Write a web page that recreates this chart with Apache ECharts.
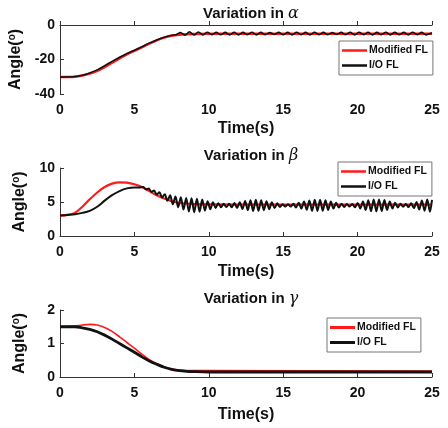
<!DOCTYPE html>
<html><head><meta charset="utf-8">
<script src="https://cdn.jsdelivr.net/npm/echarts@6/dist/echarts.min.js"></script>
<style>html,body{margin:0;padding:0;background:#fff}#c{width:448px;height:428px}</style>
</head><body><div id="c"></div>
<script>
// ---- data ----
const xTicks = [0, 5, 10, 15, 20, 25];
const seriesNames = ['Modified FL', 'I/O FL'];
const greekSymbols = ['α', 'β', 'γ'];

const alphaModified = [[0,-30.2],[1,-30],[1.5,-29.3],[2,-28.2],[2.5,-26.6],[3,-24.4],[3.5,-21.9],[4,-19.4],[4.5,-17],[5,-15],[5.5,-12.9],[6,-10.8],[6.5,-8.9],[7,-7.3],[7.5,-6.2],[8,-5.6],[8.5,-5.3],[9,-5.2],[12,-5.1],[25,-5.1]];
const alphaIO = [[0,-30.2],[1,-29.9],[1.5,-29.1],[2,-27.8],[2.5,-26],[3,-23.6],[3.5,-21.1],[4,-18.7],[4.5,-16.5],[5,-14.6],[5.5,-12.6],[6,-10.5],[6.5,-8.7],[7,-7.1],[7.5,-5.9],
 [7.8,-5.6],[8.1,-4.4],[8.4,-5.9],[8.7,-4.0],[9.0,-5.8],[9.3,-4.1],[9.6,-5.7],[9.9,-4.2],[10.2,-5.6],[10.5,-4.3],[10.8,-5.6],[11.1,-4.3],[11.4,-5.7],[11.7,-4.2],[12.0,-5.7],
 [12.3,-4.3],[12.6,-5.6],[12.9,-4.2],[13.2,-5.7],[13.5,-4.3],[13.8,-5.6],[14.1,-4.4],[14.4,-5.5],[14.7,-4.3],[15.0,-5.6],[15.3,-4.3],[15.6,-5.7],[15.9,-4.2],[16.2,-5.6],
 [16.5,-4.3],[16.8,-5.7],[17.1,-4.2],[17.4,-5.6],[17.7,-4.3],[18.0,-5.6],[18.3,-4.4],[18.6,-5.5],[18.9,-4.3],[19.2,-5.6],[19.5,-4.2],[19.8,-5.7],[20.1,-4.2],[20.4,-5.6],
 [20.7,-4.3],[21.0,-5.7],[21.3,-4.3],[21.6,-5.6],[21.9,-4.2],[22.2,-5.7],[22.5,-4.3],[22.8,-5.6],[23.1,-4.3],[23.4,-5.7],[23.7,-4.2],[24.0,-5.6],[24.3,-4.3],[24.6,-5.7],[25.0,-4.5]];

const betaModified = [[0,3.0],[0.5,3.1],[1,3.4],[1.5,4.3],[2,5.4],[2.5,6.4],[3,7.2],[3.5,7.7],[4,7.9],[4.5,7.85],[5,7.6],[5.5,7.2],[6,6.6],[6.5,6.0],[7,5.5],[7.5,5.1],[8,4.85],[9,4.7],[10,4.65],[15,4.6],[25,4.6]];
const betaIO = [[0,3.0],[0.5,3.1],[1,3.2],[1.5,3.4],[2,3.7],[2.5,4.3],[3,5.2],[3.5,6.0],[4,6.6],[4.5,7.0],[5,7.15],[5.3,7.15],
 [5.60,7.2],[5.78,6.85],[5.96,6.97],[6.14,6.5],[6.32,6.7],[6.50,6.1],[6.68,6.45],[6.86,5.68],[7.04,6.15],[7.22,5.18],[7.40,5.98],[7.58,4.68],[7.76,5.82],[7.94,4.22],
 [8.12,5.7],[8.30,3.88],[8.48,5.6],[8.66,3.62],[8.84,5.54],[9.02,3.48],[9.20,5.46],[9.38,3.56],[9.56,5.36],[9.74,3.75],[9.92,5.12],[10.10,3.95],[10.28,4.96],[10.46,4.12],
 [10.64,4.82],[10.82,4.22],[11.00,4.74],[11.18,4.26],[11.36,4.74],[11.54,4.24],[11.72,4.84],[11.90,4.12],[12.08,4.96],[12.26,3.96],[12.44,5.14],[12.62,3.8],[12.80,5.26],
 [12.98,3.68],[13.16,5.32],[13.34,3.7],[13.52,5.26],[13.70,3.8],[13.88,5.12],[14.06,3.95],[14.24,4.96],[14.42,4.12],[14.60,4.8],[14.78,4.26],[14.96,4.68],[15.14,4.33],
 [15.32,4.67],[15.50,4.32],[15.68,4.74],[15.86,4.2],[16.04,4.88],[16.22,4.03],[16.40,5.06],[16.58,3.85],[16.76,5.22],[16.94,3.7],[17.12,5.32],[17.30,3.68],[17.48,5.32],
 [17.66,3.71],[17.84,5.24],[18.02,3.84],[18.20,5.06],[18.38,4.03],[18.56,4.88],[18.74,4.18],[18.92,4.76],[19.10,4.28],[19.28,4.7],[19.46,4.32],[19.64,4.72],[19.82,4.22],
 [20.00,4.86],[20.18,4.04],[20.36,5.06],[20.54,3.84],[20.72,5.26],[20.90,3.64],[21.08,5.38],[21.26,3.62],[21.44,5.38],[21.62,3.66],[21.80,5.28],[21.98,3.84],[22.16,5.06],
 [22.34,4.04],[22.52,4.88],[22.70,4.2],[22.88,4.74],[23.06,4.3],[23.24,4.7],[23.42,4.26],[23.60,4.82],[23.78,4.1],[23.96,5.0],[24.14,3.88],[24.32,5.22],[24.50,3.7],
 [24.68,5.38],[24.86,3.56],[25.00,5.3]];

const gammaModified = [[0,1.5],[1,1.52],[1.5,1.55],[2,1.57],[2.5,1.55],[3,1.48],[3.5,1.36],[4,1.2],[4.5,1.03],[5,0.86],[5.5,0.68],[6,0.52],[6.5,0.4],[7,0.3],[7.5,0.24],[8,0.21],[9,0.19],[10,0.19],[25,0.18]];
const gammaIO = [[0,1.5],[1,1.5],[1.5,1.47],[2,1.42],[2.5,1.35],[3,1.25],[3.5,1.13],[4,1.0],[4.5,0.87],[5,0.74],[5.5,0.6],[6,0.48],[6.5,0.38],[7,0.29],[7.5,0.23],[8,0.19],[8.5,0.17],[9,0.16],[10,0.15],[25,0.15]];

const yRanges = [[-40, 0, 20], [0, 10, 5], [0, 2, 1]];

// ---- chart ----
const grids = [
  {left: 60, top: 25, width: 372, height: 69, outerBoundsMode: 'none', containLabel: false},
  {left: 60, top: 168, width: 372, height: 68, outerBoundsMode: 'none', containLabel: false},
  {left: 60, top: 310, width: 372, height: 67, outerBoundsMode: 'none', containLabel: false}
];
const titleTops = [1, 143, 286];
const xNameGaps = [27, 28, 30];
const legendPos = [{left: 339, top: 41}, {left: 338, top: 162}, {left: 327, top: 318}];
const lineWidths = [[2.5, 1.6], [2.2, 2.0], [1.6, 2.8]];
const allData = [[alphaModified, alphaIO], [betaModified, betaIO], [gammaModified, gammaIO]];
const font = 'Liberation Sans, Arial, sans-serif';

const option = {
  animation: false,
  backgroundColor: '#fff',
  title: greekSymbols.map((g, i) => ({
    text: 'Variation in {g|' + g + '}',
    left: 246, textAlign: 'center', top: titleTops[i],
    textStyle: {fontFamily: font, fontWeight: 'bold', fontSize: 15, color: '#111',
      rich: {g: {fontFamily: 'DejaVu Serif, serif', fontStyle: 'italic', fontWeight: 'normal', fontSize: 16, color: '#111'}}}
  })),
  grid: grids,
  legend: [0,1,2].map(i => ({
    left: legendPos[i].left, top: legendPos[i].top, orient: 'vertical',
    data: seriesNames.map(n => ({name: n + '\u200b'.repeat(i)})),
    icon: 'rect', itemWidth: 25, itemHeight: i === 2 ? 3 : 2.5, itemGap: 4,
    padding: [4, 5, 4, 3], borderColor: '#777', borderWidth: 1, backgroundColor: '#fff',
    textStyle: {fontFamily: font, fontWeight: 'bold', fontSize: 10.5, color: '#111', padding: [0,0,0,-3]}
  })),
  xAxis: [0,1,2].map(i => ({
    type: 'value', gridIndex: i, min: 0, max: 25, interval: 5,
    name: 'Time(s)', nameLocation: 'middle', nameGap: xNameGaps[i],
    nameTextStyle: {fontFamily: font, fontWeight: 'bold', fontSize: 16, color: '#111'},
    axisLine: {show: true, lineStyle: {color: '#333', width: 1}},
    axisTick: {show: true, inside: true, length: 4, lineStyle: {color: '#333'}},
    axisLabel: {fontFamily: font, fontWeight: 'bold', fontSize: 14, color: '#111', margin: 9,
      formatter: v => xTicks.includes(v) ? String(v) : ''},
    splitLine: {show: false}
  })),
  yAxis: [0,1,2].map(i => ({
    type: 'value', gridIndex: i, min: yRanges[i][0], max: yRanges[i][1], interval: yRanges[i][2],
    name: 'Angle({s|o})', nameLocation: 'middle', nameGap: 31, nameRotate: 90,
    nameTextStyle: {fontFamily: font, fontWeight: 'bold', fontSize: 16, color: '#111',
      rich: {s: {fontFamily: font, fontWeight: 'bold', fontSize: 10, color: '#111', verticalAlign: 'top', padding: [0,0,8,0]}}},
    axisLine: {show: true, lineStyle: {color: '#333', width: 1}},
    axisTick: {show: true, inside: true, length: 4, lineStyle: {color: '#333'}},
    axisLabel: {fontFamily: font, fontWeight: 'bold', fontSize: 14, color: '#111', margin: 5},
    splitLine: {show: false}
  })),
  series: []
};
allData.forEach((pair, i) => {
  pair.forEach((d, k) => {
    option.series.push({
      name: seriesNames[k] + '\u200b'.repeat(i), type: 'line', xAxisIndex: i, yAxisIndex: i,
      data: d, showSymbol: false, symbol: 'none', smooth: 0.3,
      lineStyle: {color: k === 0 ? '#ff1a1a' : '#111', width: lineWidths[i][k]},
      itemStyle: {color: k === 0 ? '#ff1a1a' : '#111'}
    });
  });
});
const chart = echarts.init(document.getElementById('c'), null, {renderer: 'canvas'});
chart.setOption(option);
</script></body></html>
